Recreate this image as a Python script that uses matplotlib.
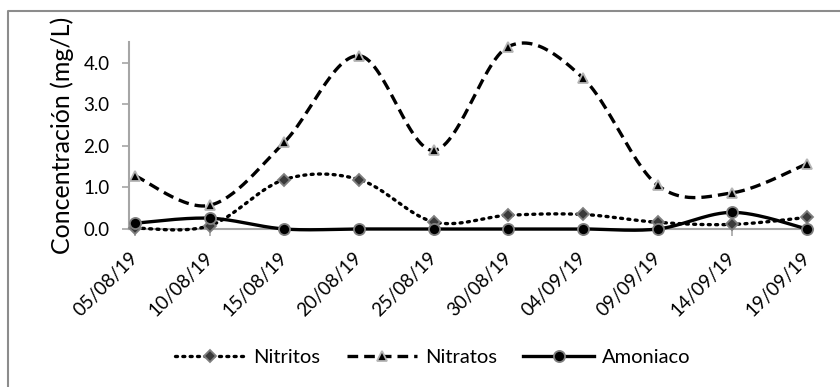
import numpy as np
import matplotlib
matplotlib.use("Agg")
import matplotlib.pyplot as plt
from matplotlib.lines import Line2D

plt.rcParams['font.family'] = ['Lato', 'DejaVu Sans']

fechas = ["05/08/19", "10/08/19", "15/08/19", "20/08/19", "25/08/19",
          "30/08/19", "04/09/19", "09/09/19", "14/09/19", "19/09/19"]
nitritos = [0.02, 0.08, 1.19, 1.19, 0.17, 0.33, 0.35, 0.16, 0.11, 0.28]
nitratos = [1.28, 0.57, 2.09, 4.17, 1.89, 4.39, 3.63, 1.05, 0.87, 1.57]
amoniaco = [0.14, 0.26, 0.0, 0.0, 0.0, 0.0, 0.0, 0.0, 0.40, 0.0]
yticks = [0.0, 1.0, 2.0, 3.0, 4.0]


def smooth(x, y, n=30):
    x = np.asarray(x, float)
    y = np.asarray(y, float)
    px = np.concatenate([[x[0]], x, [x[-1]]])
    py = np.concatenate([[y[0]], y, [y[-1]]])
    xs, ys = [], []
    t = np.linspace(0, 1, n)
    for i in range(1, len(px) - 2):
        p0 = np.array([px[i], py[i]])
        p3 = np.array([px[i + 1], py[i + 1]])
        c1 = p0 + (p3 - np.array([px[i - 1], py[i - 1]])) / 6
        c2 = p3 - (np.array([px[i + 2], py[i + 2]]) - p0) / 6
        b = ((1 - t) ** 3)[:, None] * p0 + (3 * (1 - t) ** 2 * t)[:, None] * c1 \
            + (3 * (1 - t) * t ** 2)[:, None] * c2 + (t ** 3)[:, None] * p3
        xs.append(b[:, 0])
        ys.append(b[:, 1])
    return np.concatenate(xs), np.concatenate(ys)


fig = plt.figure(figsize=(8.4, 3.87), dpi=100)
ax = fig.add_axes([0.1536, 0.4083, 0.8144, 0.4832])

x = np.arange(len(fechas))

series = [
    (nitritos, "Nitritos", (0, (0.6, 1.6)), 'D', '#3a3a3a', '#7f7f7f', 6),
    (nitratos, "Nitratos", (0, (3.2, 1.8)), '^', '#000000', '#b5b5b5', 7.5),
    (amoniaco, "Amoniaco", '-', 'o', '#000000', '#808080', 8),
]
handles = []
for vals, name, ls, mk, fc, ec, ms in series:
    sx, sy = smooth(x, vals)
    cap = 'round' if mk == 'D' else 'butt'
    ax.plot(sx, sy, color='black', lw=2.4, ls=ls, dash_capstyle=cap,
            zorder=3, clip_on=False)
    ax.plot(x, vals, ls='none', marker=mk, ms=ms, mfc=fc, mec=ec, mew=1.3,
            zorder=4, clip_on=False)
    handles.append(Line2D([], [], color='black', lw=2.4, ls=ls, marker=mk, ms=ms,
                          mfc=fc, mec=ec, mew=1.3, dash_capstyle=cap))

ax.set_xlim(-0.08, 9.08)
ax.set_ylim(0, 4.5)
ax.set_yticks(yticks)
ax.set_yticklabels([f"{v:.1f}" for v in yticks], fontsize=13.5)
ax.set_xticks(x)
ax.set_xticklabels(fechas, rotation=45, ha='right', va='center',
                   rotation_mode='anchor', fontsize=13.5)
ax.tick_params(axis='x', length=5, width=1.2, color='#a6a6a6', pad=14)
ax.tick_params(axis='y', length=5, width=1.2, color='#a6a6a6', pad=9)
for s in ['top', 'right']:
    ax.spines[s].set_visible(False)
for s in ['left', 'bottom']:
    ax.spines[s].set_color('#a6a6a6')
    ax.spines[s].set_linewidth(1.5)
ax.set_ylabel("Concentración (mg/L)", fontsize=18, labelpad=7)

fig.legend(handles, ["Nitritos", "Nitratos", "Amoniaco"], loc='center',
           bbox_to_anchor=(0.515, 0.076), ncol=3, frameon=False, fontsize=14.5,
           handlelength=3.5, columnspacing=1.3, handletextpad=0.4)

fig.add_artist(Line2D([8 / 840, 8 / 840, 1.0], [0.0, 1 - 11 / 387, 1 - 11 / 387],
                      transform=fig.transFigure, color='#8c8c8c', lw=1.5))

fig.savefig("out.png", dpi=100)
